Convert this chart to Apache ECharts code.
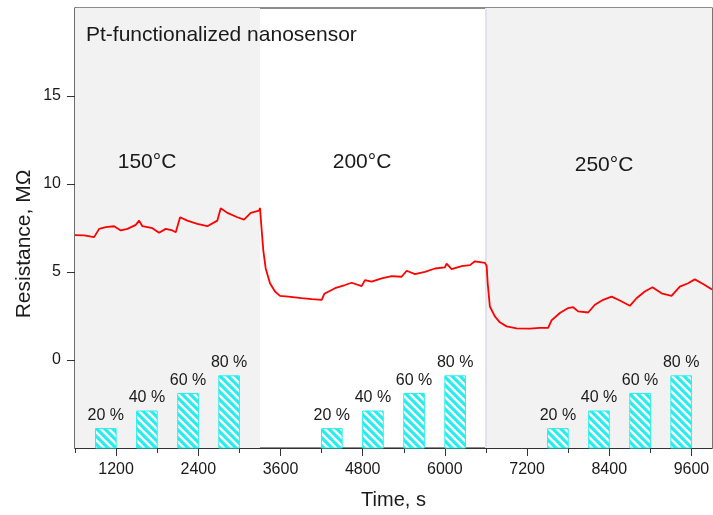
<!DOCTYPE html>
<html>
<head>
<meta charset="utf-8">
<script src="https://cdn.jsdelivr.net/npm/echarts@6/dist/echarts.min.js"></script>
<style>html,body{margin:0;padding:0;background:#fff}#c{width:713px;height:515px}</style>
</head>
<body>
<div id="c"></div>
<script>
// ---- data ----
const resistance = [
  [600,7.1],[733,7.08],[879,6.98],[952,7.45],[1050,7.55],[1171,7.6],[1269,7.36],[1365,7.45],[1487,7.68],[1536,7.92],
  [1584,7.6],[1730,7.49],[1827,7.23],[1925,7.45],[2022,7.36],[2071,7.26],[2134,8.11],[2240,7.92],[2386,7.74],[2532,7.6],
  [2678,7.92],[2728,8.62],[2824,8.36],[2970,8.11],[3068,7.98],[3166,8.36],[3287,8.49],[3301,8.64],
  [3326,7.36],[3349,6.23],[3384,5.2],[3447,4.36],[3520,3.89],[3593,3.64],[3714,3.6],[3910,3.51],[4056,3.46],[4202,3.42],
  [4240,3.76],[4396,4.08],[4542,4.26],[4639,4.39],[4785,4.2],[4833,4.54],[4931,4.45],[5077,4.64],[5223,4.77],[5369,4.73],
  [5442,5.07],[5563,4.88],[5709,5.01],[5855,5.2],[6001,5.26],[6025,5.48],[6099,5.16],[6245,5.33],[6366,5.39],[6439,5.61],
  [6585,5.52],[6610,5.35],
  [6625,4.36],[6657,3.04],[6730,2.48],[6803,2.14],[6901,1.91],[7047,1.8],[7241,1.78],[7387,1.82],[7508,1.82],[7557,2.25],
  [7679,2.67],[7800,2.95],[7873,3.0],[7946,2.76],[8092,2.7],[8190,3.14],[8311,3.42],[8434,3.6],[8554,3.38],[8700,3.08],
  [8798,3.51],[8919,3.89],[9031,4.13],[9163,3.79],[9309,3.64],[9430,4.17],[9551,4.36],[9649,4.58],[9771,4.32],[9900,4.0]
];
const gasStart = [900,1500,2100,2700,4200,4800,5400,6000,7500,8100,8700,9300];
const gasEnd   = [1200,1800,2400,3000,4500,5100,5700,6300,7800,8400,9000,9600];
const barTop   = [-3.9,-2.9,-1.9,-0.9,-3.9,-2.9,-1.9,-0.9,-3.9,-2.9,-1.9,-0.9];
const barLabels = ['20 %','40 %','60 %','80 %','20 %','40 %','60 %','80 %','20 %','40 %','60 %','80 %'];
const shadedZones = [[600,3300],[6600,9900]];
const tempLabels = ['150°C','200°C','250°C'];
const xMajorTicks = [1200,2400,3600,4800,6000,7200,8400,9600];
const yTicks = [0,5,10,15];
const titleText = 'Pt-functionalized nanosensor';

// ---- hatch pattern ----
const T = 8;
const pc = document.createElement('canvas');
pc.width = T; pc.height = T;
const pg = pc.getContext('2d');
pg.fillStyle = '#22eeee'; pg.fillRect(0,0,T,T);
pg.strokeStyle = '#ffffff'; pg.lineWidth = 2.6;
pg.beginPath();
[-T,0,T].forEach(k => { pg.moveTo(k-1,-1); pg.lineTo(k+T+1,T+1); });
pg.stroke();

const barData = gasStart.map((s,i) => [s, gasEnd[i], barTop[i]]);
const FONT = "'Liberation Sans', Arial, sans-serif";
const plain = v => String(v);

const chart = echarts.init(document.getElementById('c'), null, {renderer:'canvas'});
chart.setOption({
  animation: false,
  grid: {left:75, right:1, top:8, bottom:67, show:true, borderColor:'#1a1a1a', borderWidth:1.2, backgroundColor:'transparent'},
  xAxis: [{
    type:'value', min:600, max:9900, interval:600,
    axisLine:{show:true, onZero:false, lineStyle:{color:'#333', width:1.2}},
    axisTick:{show:true, length:5, lineStyle:{color:'#333'}},
    axisLabel:{formatter: v => (v % 1200 === 0 ? String(v) : ''), showMinLabel:true, showMaxLabel:false,
      fontSize:16, color:'#1a1a1a', fontFamily:FONT, margin:14},
    splitLine:{show:false},
    name:'Time, s', nameLocation:'middle', nameGap:42,
    nameTextStyle:{fontSize:20, color:'#1a1a1a', fontFamily:FONT}
  },{
    type:'value', min:600, max:9900, position:'bottom', offset:0,
    axisLine:{show:false, onZero:false},
    axisTick:{show:true, length:8, customValues:xMajorTicks, lineStyle:{color:'#333'}},
    axisLabel:{show:false}, splitLine:{show:false}
  }],
  yAxis: {
    type:'value', min:-5, max:20, interval:5,
    axisLine:{show:true, onZero:false, lineStyle:{color:'#333', width:1.2}},
    axisTick:{show:true, length:8, customValues:yTicks, lineStyle:{color:'#333'}},
    axisLabel:{customValues:yTicks, formatter:plain, fontSize:16, color:'#1a1a1a', fontFamily:FONT, margin:14},
    splitLine:{show:false}
  },
  graphic: [
    {type:'text', z:100, x:86, y:35, style:{text:titleText, fontSize:21, fill:'#1a1a1a', fontFamily:FONT, verticalAlign:'middle'}},
    {type:'text', z:100, x:147, y:162, style:{text:tempLabels[0], fontSize:21, fill:'#1a1a1a', fontFamily:FONT, align:'center', verticalAlign:'middle'}},
    {type:'text', z:100, x:362, y:162, style:{text:tempLabels[1], fontSize:21, fill:'#1a1a1a', fontFamily:FONT, align:'center', verticalAlign:'middle'}},
    {type:'text', z:100, x:604, y:165, style:{text:tempLabels[2], fontSize:21, fill:'#1a1a1a', fontFamily:FONT, align:'center', verticalAlign:'middle'}},
    {type:'text', z:100, x:24, y:244, rotation:Math.PI/2, style:{text:'Resistance, MΩ', fontSize:21, fill:'#1a1a1a', fontFamily:FONT, align:'center', verticalAlign:'middle'}}
  ],
  series: [{
    type:'line', data:resistance, showSymbol:false, symbol:'none', z:5,
    lineStyle:{color:'#ff0000', width:1.8},
    markArea:{silent:true, itemStyle:{color:'#f2f2f2'},
      data: shadedZones.map(z => [{xAxis:z[0]},{xAxis:z[1]}])},
    markLine:{silent:true, symbol:'none', label:{show:false},
      lineStyle:{color:'#e2e2ec', width:2, type:'solid'},
      data:[{xAxis:shadedZones[1][0]}]}
  },{
    type:'custom', data:barData, z:4,
    encode:{x:[0,1], y:[2]},
    renderItem:(params, api) => {
      const p0 = api.coord([api.value(0), api.value(2)]);
      const p1 = api.coord([api.value(1), -5]);
      const lbl = barLabels[params.dataIndex];
      return {type:'group', children:[
        {type:'rect', shape:{x:p0[0], y:p0[1], width:p1[0]-p0[0], height:p1[1]-p0[1]},
          style:{fill:{image:pc, repeat:'repeat'}, stroke:'#22eeee', lineWidth:1}},
        {type:'text', style:{text:lbl, x:(p0[0]+p1[0])/2, y:p0[1]-5, align:'center', verticalAlign:'bottom',
          fontSize:16, fontFamily:FONT, fill:'#1a1a1a'}}
      ]};
    }
  }]
});
</script>
</body>
</html>
